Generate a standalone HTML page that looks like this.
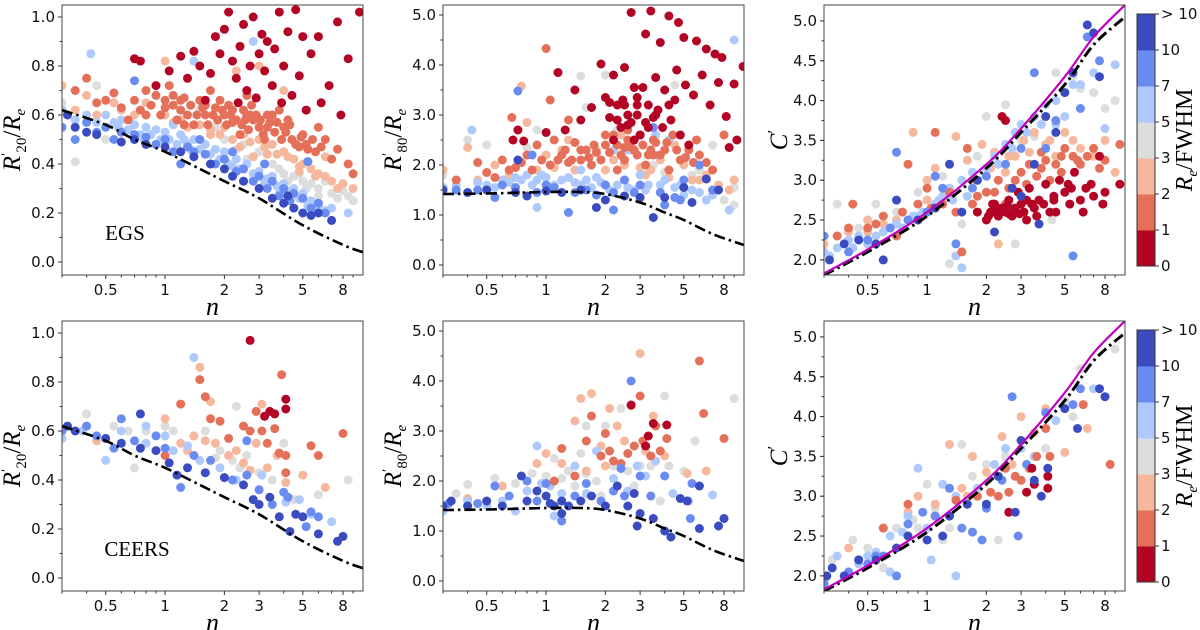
<!DOCTYPE html>
<html><head><meta charset="utf-8"><style>
html,body{margin:0;padding:0;background:#fff;}
svg{display:block;}
</style></head><body>
<svg id="fig" width="1200" height="630" viewBox="0 0 1200 630" xmlns="http://www.w3.org/2000/svg" font-family="DejaVu Sans, Liberation Sans, sans-serif"></svg>
<script>
// ---- data ----
const colors = ["#b40426","#e4705a","#f6b89d","#dcdddd","#aec9fc","#6a8bef","#3a4cc0"];
const cbLabels = ["0","1","2","3","5","7","10","> 10"];
const xTicks = [0.5,1,2,3,5,8];
const xTickLabels = ["0.5","1","2","3","5","8"];
const xMinor = [0.3,0.4,0.6,0.7,0.8,0.9,4,6,7,9];
const yTicksL = [0,0.2,0.4,0.6,0.8,1.0];
const yTickLabelsL = ["0.0","0.2","0.4","0.6","0.8","1.0"];
const yTicksM = [0,1,2,3,4,5];
const yTickLabelsM = ["0.0","1.0","2.0","3.0","4.0","5.0"];
const yTicksR = [2,2.5,3,3.5,4,4.5,5];
const yTickLabelsR = ["2.0","2.5","3.0","3.5","4.0","4.5","5.0"];

const curveLn = [0.3,0.5,0.7,1,1.5,2,3,5,8,10.1];
const curveLy = [0.62,0.56,0.50,0.45,0.38,0.33,0.26,0.15,0.07,0.04];
const curveMn = [0.3,0.5,1,1.5,2,3,4,5,7,10.1];
const curveMy = [1.42,1.43,1.46,1.46,1.42,1.25,1.05,0.9,0.62,0.4];
const curveRn = [0.3,0.5,1,2,3,5,7,10.1];
const curveRy = [1.81,2.1,2.55,3.15,3.6,4.2,4.7,5.05];
const curveRmy = [1.83,2.13,2.6,3.2,3.65,4.3,4.8,5.2];

const ptsTL = [
[0.7,0.83,0.75,0.82,0.9,0.72,1.05,0.78,1.2,0.84,1.3,0.75,1.4,0.86,1.5,0.8,1.7,0.77,1.8,0.92,1.9,0.85,2,0.95,2.1,1.02,2.2,0.82,2.3,0.75,2.4,0.88,2.5,0.97,2.6,0.7,2.7,0.8,2.8,1.0,3,0.85,3.1,0.93,3.2,0.78,3.3,0.9,3.5,0.72,3.6,0.87,3.8,1.02,4,0.8,4.2,0.94,4.4,0.68,4.6,1.03,4.8,0.76,5,0.92,5.2,0.62,5.5,0.85,6,0.92,6.2,0.65,6.8,0.72,7.5,0.98,7.8,0.6,8.5,0.83,9.7,1.02,2.9,0.67,3.9,0.65,2.35,0.65,1.6,0.66],
[0.35,0.7,0.4,0.75,0.45,0.65,0.55,0.69,0.6,0.63,0.7,0.66,0.8,0.7,0.9,0.68,1,0.66,1.1,0.64,1.2,0.62,1.3,0.6,1.5,0.66,1.6,0.6,1.8,0.63,2,0.6,2.2,0.57,2.5,0.62,2.8,0.58,3,0.55,3.3,0.6,3.6,0.53,4,0.55,4.4,0.5,4.8,0.47,5.3,0.46,5.8,0.45,6.5,0.5,7.5,0.46,8.5,0.4,1.4,0.56,2.4,0.52,3.2,0.5,1.7,0.7,2.6,0.68,3.8,0.62,0.65,0.58,6,0.55,9,0.36,1.05,0.72,1.25,0.67,1.9,0.66,2.1,0.64,2.7,0.6,3.4,0.57,4.2,0.58,5,0.52,1.15,0.58],
[0.3,0.72,0.35,0.62,0.4,0.68,0.55,0.65,0.8,0.65,1,0.6,1.2,0.58,1.5,0.56,2,0.55,2.5,0.52,3,0.5,3.5,0.48,4,0.45,4.5,0.42,5,0.4,5.5,0.38,6,0.36,7,0.33,8,0.32,9,0.3,1,0.82,2.3,0.78,3,0.8,4,0.7,2.8,0.43,6.5,0.43,1.7,0.52,3.3,0.44,4.8,0.37],
[0.3,0.65,0.35,0.58,0.45,0.72,0.5,0.5,0.35,0.41,1.5,0.62,2,0.5,2.5,0.48,3,0.45,3.5,0.4,4,0.36,4.5,0.35,5,0.33,5.5,0.32,6,0.3,7,0.28,8,0.29,9,0.25,2.8,0.58,1.8,0.55,6.5,0.33,8.5,0.27,3.8,0.38,2.3,0.46],
[0.3,0.62,0.4,0.6,0.5,0.6,0.6,0.58,0.7,0.56,0.8,0.55,0.9,0.54,1,0.53,1.2,0.52,1.4,0.5,1.6,0.48,1.8,0.46,2,0.45,2.3,0.42,2.6,0.4,3,0.37,3.5,0.35,4,0.32,4.5,0.3,5,0.28,5.5,0.25,6,0.23,7,0.22,8.5,0.2,0.42,0.85,1.4,0.82,2.8,0.9,0.75,0.52,1.1,0.56,2.5,0.33,3.8,0.28,0.55,0.57,0.95,0.5,1.3,0.48,1.7,0.44,2.2,0.39,3.2,0.32],
[0.3,0.55,0.4,0.57,0.5,0.55,0.6,0.53,0.8,0.51,1,0.5,1.3,0.47,1.6,0.44,2,0.42,2.5,0.38,3,0.35,3.5,0.33,4,0.3,5,0.26,6,0.24,0.7,0.74,1.5,0.5,2.2,0.45,1.2,0.4,3.2,0.4,5.3,0.41,4.5,0.28],
[0.32,0.6,0.35,0.55,0.4,0.53,0.45,0.52,0.6,0.49,0.7,0.5,0.8,0.48,1.0,0.47,1.2,0.45,1.4,0.43,1.7,0.4,2,0.38,2.5,0.33,3,0.3,3.5,0.26,4,0.24,4.5,0.22,5,0.2,5.5,0.19,6,0.2,7,0.17,4.2,0.27,2.2,0.35]
];
const extraTL = [
[],
[0.5,0.66,0.75,0.62,0.85,0.64,0.95,0.6,1.1,0.68,1.25,0.56,1.35,0.64,1.45,0.6,1.55,0.63,1.65,0.56,1.75,0.6,1.85,0.58,1.95,0.62,2.05,0.56,2.15,0.6,2.3,0.58,2.45,0.56,2.55,0.58,2.65,0.54,2.75,0.64,2.9,0.6,3.05,0.58,3.15,0.52,3.3,0.55,3.5,0.6,3.7,0.57,3.9,0.5,4.1,0.53,4.3,0.56,4.6,0.48,4.9,0.51,5.2,0.48,5.6,0.5,6.2,0.47,7,0.42,0.8,0.6,1,0.63,1.2,0.66,1.6,0.64,2.2,0.62,2.6,0.6],
[0.45,0.6,0.6,0.62,0.7,0.6,1.1,0.57,1.3,0.55,1.7,0.54,2.2,0.5,2.7,0.49,3.2,0.47,3.7,0.44,4.2,0.43,4.8,0.39,5.8,0.35,6.5,0.35,7.5,0.3,1.9,0.52,2.4,0.47],
[3.2,0.4,4.2,0.33,5.2,0.3,6,0.27,7.5,0.26,4.8,0.36,2.6,0.42],
[0.35,0.58,0.45,0.57,0.65,0.54,0.85,0.52,1.05,0.5,1.15,0.48,1.25,0.5,1.35,0.46,1.5,0.46,1.9,0.42,2.1,0.4,2.4,0.38,2.8,0.36,3.3,0.34,3.7,0.31,4.2,0.29,4.8,0.26,5.3,0.23,6.5,0.21,0.58,0.55,0.78,0.5],
[0.35,0.5,0.45,0.53,0.55,0.5,0.7,0.52,0.9,0.48,1.1,0.45,1.4,0.45,1.8,0.4,2.3,0.37,2.8,0.33,3.3,0.3,3.8,0.27,4.3,0.25,5.5,0.22,6.5,0.2],
[]
];
const ptsBL = [
[2.7,0.97,3.2,0.66,3.4,0.68,3.6,0.67,4.1,0.73,4.1,0.69],
[1.2,0.71,1.5,0.81,1.6,0.74,1.7,0.65,1.9,0.64,2.1,0.57,2.5,0.62,2.7,0.6,2.9,0.68,3.1,0.6,3.3,0.55,3.6,0.61,3.8,0.51,3.9,0.83,4.1,0.5,4.1,0.43,5.5,0.54,6,0.5,8,0.59,1,0.5],
[0.45,0.56,1,0.65,1.3,0.52,1.5,0.86,1.7,0.72,1.4,0.58,1.8,0.55,2.1,0.5,2.5,0.47,2.9,0.55,3.1,0.71,3.3,0.45,3.7,0.5,4.1,0.39,5,0.42,6.5,0.37,2.7,0.44,1.6,0.56,2.3,0.52,1.2,0.55],
[0.4,0.67,0.55,0.62,0.7,0.45,0.65,0.6,1.2,0.71,1.1,0.6,1.6,0.6,1.9,0.52,2.3,0.7,2.2,0.48,2.6,0.5,3,0.43,3.5,0.4,4,0.55,4.5,0.32,6,0.34,8.5,0.4,1.4,0.58,0.8,0.6,1.0,0.62,1.8,0.49,2.4,0.45],
[0.3,0.57,0.38,0.6,0.5,0.48,0.6,0.6,0.8,0.55,1,0.58,1.1,0.52,1.3,0.54,1.5,0.48,1.9,0.45,2.3,0.4,3.1,0.42,4.1,0.31,4.8,0.32,5.5,0.26,7,0.23,1.4,0.9,0.8,0.62],
[0.3,0.6,0.4,0.62,0.45,0.58,0.55,0.53,0.7,0.56,0.9,0.58,1,0.53,1.2,0.37,1.4,0.5,1.7,0.48,2.2,0.4,2.6,0.42,3,0.36,3.5,0.3,4,0.35,4.2,0.33,5.2,0.21,5.5,0.27,6,0.25,0.6,0.65,2.6,0.56],
[0.32,0.62,0.35,0.6,0.5,0.57,0.6,0.55,0.75,0.53,0.9,0.52,1.05,0.47,1.15,0.42,1.3,0.45,1.6,0.43,2,0.41,2.5,0.38,2.8,0.32,3,0.3,3.4,0.33,3.8,0.25,4.3,0.19,4.6,0.26,5,0.25,6,0.18,7.5,0.15,8,0.17,0.75,0.67]
];
const ptsTM = [
[0.68,2.5,0.72,2.7,0.77,2.48,1,2.65,1.15,3.85,1.25,2.7,1.4,3.5,1.5,2.9,1.7,3.15,1.9,4.02,2.0,3.35,2.1,2.95,2.2,3.8,2.3,3.2,2.4,2.75,2.5,3.95,2.6,2.8,2.7,5.05,2.8,3.55,2.9,3.0,3.0,2.6,3.1,3.55,3.2,4.62,3.3,3.2,3.4,5.08,3.5,2.95,3.6,3.75,3.8,4.45,4.0,3.5,4.2,4.98,4.3,2.9,4.5,3.3,4.7,4.85,4.8,2.6,5,4.55,5.1,3.6,5.3,2.4,5.6,3.4,5.8,4.48,6.2,3.8,6.5,4.32,6.8,3.2,7.2,4.22,7.5,3.65,7.8,4.15,8.2,2.97,8.5,2.35,9,3.62,9.3,2.5,10,3.97,2.6,3.0,3.3,2.75,2.2,2.5,4.6,3.9,2.45,3.3,2.9,3.35,3.7,3.1],
[0.35,1.7,0.45,2.05,0.5,1.85,0.6,2.1,0.7,1.95,0.8,2.2,0.9,2.4,1,4.33,1.05,3.3,1.1,2.5,1.2,2.2,1.3,2.05,1.4,2.45,1.6,2.3,1.8,2.25,2.0,2.4,2.2,2.6,2.4,2.2,2.6,2.5,2.8,2.3,3,2.6,3.3,2.2,3.6,2.45,4,2.3,4.4,2.6,4.8,2.1,5.3,2.3,6,2.2,7,1.9,8,2.6,1.3,2.9,0.67,2.95,1.7,2.0,2.3,1.9,3.2,2.0,4.2,1.9,5.8,2.5,2.5,2.35,3.5,2.5,1.5,2.1],
[0.3,1.9,0.4,2.35,0.55,2.0,0.75,3.58,1,2.2,1.2,2.3,1.3,2.5,1.5,2.1,1.8,2.3,2.2,2.1,2.4,2.6,2.7,2.3,3,1.95,3.4,1.9,3.8,2.1,4.5,2.4,5,2.0,5.5,1.7,6.5,1.8,7.5,1.6,9,1.7,1.15,3.85,0.8,2.85,2.9,3.0],
[0.3,1.8,0.4,2.5,0.5,2.4,0.9,2.7,1.5,3.78,1.6,3.15,2,3.8,2.3,2.7,3,1.8,4,1.85,4.5,3.6,5,2.1,6,1.9,7,2.4,8,1.3,9,1.55,0.8,2.35,3.5,2.0,5.5,1.8,9,1.2],
[0.3,1.55,0.42,2.7,0.5,1.6,0.6,1.7,0.7,1.75,0.8,1.8,0.9,1.7,1,1.75,1.2,1.7,1.4,1.65,1.6,1.7,1.8,1.75,2,1.6,2.2,2.3,2.5,1.7,2.8,1.5,3,1.8,3.3,1.6,3.6,2.6,4,1.7,4.5,1.55,5,1.4,5.5,1.5,6.5,1.3,7.5,1.5,8.5,1.1,9,4.5,0.9,1.15,2.6,2.3,3.7,2.2,1.5,1.9,4.2,2.5],
[0.35,1.5,0.55,1.35,0.6,1.6,0.85,2.2,1,1.6,1.3,1.05,1.6,1.5,2,1.6,2.5,1.7,3,1.6,3.5,2.75,4,1.2,5,1.7,6,2,7,1.5,0.72,3.48,4.5,1.35,2.2,1.1],
[0.3,1.5,0.4,1.45,0.5,1.5,0.7,1.45,0.8,1.38,1,1.48,1.2,1.45,1.5,1.5,2,1.3,2.5,1.38,3,1.35,3.5,0.95,4,1.35,5,1.55,5.5,1.25,6.5,1.72,7.5,1.5,1.8,1.15,0.72,2.1]
];
const extraTM = [
[2.3,2.9,2.5,3.2,2.7,2.85,2.9,3.2,3.2,2.85,3.6,3.0,3.9,2.75,4.2,3.2,2.1,3.25,2.8,2.5],
[0.55,1.75,0.65,1.9,0.75,2.05,0.85,1.9,0.95,2.1,1.05,2.0,1.15,2.1,1.25,2.3,1.35,2.1,1.5,2.3,1.65,2.15,1.75,2.4,1.9,2.1,2.1,2.25,2.3,2.4,2.5,2.1,2.7,2.35,2.9,2.2,3.1,2.4,3.4,2.3,3.8,2.2,4.1,2.45,4.6,2.3,5.1,2.15,5.6,2.05,6.5,2.05,2.0,2.6,2.6,2.7,3.5,2.2],
[0.45,1.7,0.65,1.8,0.9,1.9,1.1,1.95,1.4,1.9,1.7,2.0,2.0,1.9,2.5,2.0,3.2,1.8,4.2,1.75,6,1.7,8.5,1.5],
[],
[0.35,1.6,0.45,1.65,0.55,1.55,0.65,1.65,0.75,1.7,0.85,1.6,0.95,1.8,1.1,1.6,1.3,1.75,1.5,1.6,1.7,1.55,1.9,1.65,2.1,1.5,2.3,1.6,2.6,1.55,3.2,1.5,3.8,1.6,4.8,1.6,6,1.45,7,1.4],
[0.45,1.5,0.7,1.55,0.9,1.45,1.1,1.55,1.4,1.45,1.8,1.4,2.2,1.45,2.8,1.45,3.8,1.45,4.8,1.3],
[]
];
const ptsBM = [
[2.7,3.52,3.2,2.7,3.3,2.9,3.5,3.15,4.1,3.12],
[1.1,2.0,1.2,2.65,1.4,2.1,1.6,2.8,1.7,3.3,1.9,2.5,2.0,2.95,2.1,2.6,2.4,2.35,2.6,2.55,2.8,2.7,3,3.7,3.1,2.8,3.4,2.5,3.6,3.1,3.8,2.6,4.1,2.85,6,4.4,6.3,3.35,8,2.85,2.2,2.4],
[0.4,1.65,0.6,1.9,0.9,2.35,1,2.55,1.2,2.35,1.4,3.2,1.5,3.65,1.7,3.75,1.9,2.7,2.1,3.45,2.3,3.1,2.5,2.8,2.7,3.5,3,4.55,3.2,2.6,3.5,3.3,4,2.5,5.2,2.15,6.5,2.2,1.6,2.2,2.0,2.3],
[0.35,1.75,0.4,1.93,0.55,2.05,0.7,1.95,0.85,2.15,1.0,2.1,1.1,2.45,1.3,2.2,1.5,2.55,1.6,3.1,1.8,2.0,2,3.1,2.2,2.3,2.4,3.45,2.6,2.2,2.8,1.9,3,2.3,3.4,2.3,3.8,1.6,4,3.7,4.2,2.3,5,2.2,5.7,2.8,9,3.65,1.4,1.9,1.9,1.7,1.2,2.05,1.6,2.15],
[0.3,1.4,0.4,1.6,0.5,1.5,0.6,1.6,0.7,1.4,0.8,1.8,0.9,2.7,0.95,1.95,1.05,1.9,1.2,1.75,1.4,2.3,1.6,1.75,1.8,2.6,2.2,2.05,2.6,1.8,3.2,2.1,3.6,2.4,4.4,1.75,5.3,1.6,7,1.72,1.1,1.3,2.9,2.3],
[0.32,1.55,0.45,1.55,0.55,1.9,0.65,1.7,0.8,2.0,0.9,1.6,1,1.95,1.2,1.2,1.4,1.7,1.6,1.95,1.9,1.6,2.2,1.8,2.5,1.7,2.7,4.0,3,2.1,3.4,1.7,4,2.1,5.5,1.95,5.4,1.25,2.4,2.25],
[0.3,1.5,0.33,1.6,0.4,1.5,0.5,1.6,0.6,1.5,0.75,2.1,0.8,1.6,0.9,1.8,1,1.7,1.05,1.55,1.1,1.5,1.2,1.35,1.3,1.5,1.5,1.6,1.7,1.7,2,1.5,2.3,1.9,2.6,1.5,2.9,1.1,3,1.35,3.5,1.25,4,1.0,4.3,0.88,4.8,1.65,5.2,1.6,6,1.05,6,1.9,7.5,1.1,8,1.25,1.2,1.6,2.8,1.75]
];
const ptsTR = [
[1.8,2.6,2,2.5,2.1,2.6,2.2,2.7,2.3,2.55,2.4,2.65,2.5,2.6,2.6,2.75,2.7,2.55,2.8,2.65,3.0,2.7,3.1,2.6,3.3,2.9,3.5,2.65,3.7,2.75,4.0,2.95,4.2,2.6,4.4,2.8,4.7,3.0,5,2.85,5.3,2.7,5.6,3.1,6,2.75,6.4,2.9,7,2.8,7.5,3.3,8,2.85,9.5,2.95,2.4,3.8,2.5,3.75,5.4,2.9,4.4,2.75,3.2,2.5,2.9,2.85,6.8,2.95,7.8,2.7,2.2,2.6,2.6,2.58,3.4,2.7],
[0.35,2.3,0.42,2.7,0.5,2.4,0.6,2.55,0.7,2.3,0.8,3.2,0.9,2.7,1.0,2.9,1.1,3.6,1.3,2.85,1.5,2.1,1.7,2.7,2,2.85,2.3,3.0,2.6,2.9,3,3.1,3.3,3.2,3.6,3.05,4,3.25,4.5,3.2,5,3.4,5.5,3.3,6,3.2,7,3.4,8,3.25,9.5,3.45,1.6,3.4,2.5,2.7,3.8,3.35,4.8,3.1],
[0.3,2.2,0.4,2.35,0.5,2.5,0.6,2.45,0.75,2.6,0.85,3.6,1.0,3.0,1.2,2.8,1.4,3.55,1.6,3.25,1.9,3.45,2.2,3.35,2.5,3.1,2.8,3.3,3.1,3.5,3.5,3.6,4,3.45,4.5,3.3,5,3.6,6,3.4,7,3.3,8,3.5,9,3.1,2.3,2.2,1.1,3.15],
[0.3,2.2,0.35,2.7,0.45,2.4,0.55,2.7,0.7,2.6,0.9,2.85,1.2,3.05,1.5,2.45,1.8,3.3,2,3.8,2.5,3.95,3,3.5,3.5,3.55,4,3.8,4.5,4.35,5,3.6,5.5,4.3,6,4.15,7,4.1,8,3.9,9,4.0,1.3,1.95,2.8,2.2,4.3,2.5],
[0.3,2.1,0.35,2.15,0.4,2.25,0.45,2.3,0.5,2.2,0.6,2.35,0.7,2.45,0.8,2.5,0.9,2.55,1,2.6,1.1,2.7,1.2,2.8,1.3,2.9,1.5,3.0,1.7,3.1,2,3.15,2.2,3.3,2.5,3.45,2.8,3.6,3,3.7,3.5,3.8,4,3.95,4.5,4.0,5,3.8,5.5,4.2,6,4.2,7,4.35,8,3.65,9,4.45,1.4,2.05,1.6,2.8,2.6,2.7,1.5,1.9],
[0.3,2.3,0.4,2.1,0.5,2.25,0.65,2.4,0.8,2.5,1.0,2.6,1.2,2.9,1.4,2.2,1.7,2.9,2,3.05,2.5,3.2,3,3.4,3.5,4.35,4,3.4,4.5,3.75,5.5,2.05,6,3.9,6.5,4.8,7.5,4.5,0.7,3.35,2.3,2.65,1.1,3.05],
[0.32,2.0,0.38,2.2,0.45,2.25,0.55,2.2,0.7,2.75,0.9,2.5,1.1,2.65,1.3,3.2,1.5,2.6,2.2,2.35,3,2.8,3.5,3.2,3.7,2.45,4,3.8,4.5,3.6,5,4.1,5.5,4.35,6.5,4.95,7,4.85,7.5,4.3,2.7,2.9,1.8,3.0,0.6,2.0]
];
const extraTR = [
[2.15,2.7,2.35,2.62,2.55,2.68,2.75,2.6,2.95,2.58,3.2,2.75,3.6,2.55,3.9,2.7,4.5,2.6,5.2,2.95,6.2,2.6,2.05,2.55],
[0.4,2.4,0.55,2.45,0.75,2.6,0.9,2.5,1.05,2.65,1.2,2.7,1.4,2.6,1.8,2.8,2.2,2.85,2.8,3.0,3.2,2.95,3.8,3.15,4.2,3.0,4.8,3.3,5.8,3.25,6.5,3.3,7.5,3.15],
[0.35,2.3,0.5,2.35,0.7,2.5,1.0,2.75,1.3,2.85,1.7,3.0,2.1,3.15,2.6,3.3,3.3,3.35,4.2,3.5,5.5,3.5],
[],
[0.32,2.05,0.42,2.15,0.55,2.3,0.65,2.4,0.75,2.4,0.85,2.55,0.95,2.6,1.15,2.75,1.35,2.75,1.8,3.0,2.3,3.2,2.7,3.4,3.2,3.6,3.8,3.7,4.5,3.7],
[],
[]
];
const ptsBR = [
[2.6,2.8,3.2,3.05,3.4,3.35,3.5,3.15,4.1,3.25,4.1,3.1],
[0.6,2.6,0.8,2.9,1.1,2.75,1.4,2.95,1.8,3.0,2.1,3.05,2.5,3.35,2.8,3.25,3,3.2,3.3,3.35,3.6,3.5,4,3.85,4.2,3.5,6.2,4.15,8.5,3.4,2.3,3.0,2.6,3.05],
[0.4,2.35,0.6,2.6,0.8,2.8,0.9,3.0,1.1,2.9,1.3,3.65,1.5,3.1,1.7,3.5,2,3.3,2.4,3.75,2.7,3.4,3,4.0,3.5,3.8,4,4.1,5,3.55,6.5,3.85,1.6,3.0],
[0.33,2.2,0.42,2.45,0.5,2.35,0.6,2.1,0.7,2.6,0.85,2.7,1,3.15,1.2,3.15,1.3,2.6,1.5,3.65,1.7,3.25,2,3.4,2.5,3.5,3,3.7,3.5,3.5,4,3.6,5,4.2,5.5,4.0,6,4.6,9,4.85,2.3,2.45,1.2,2.45,0.9,2.6,1.1,2.85],
[0.3,1.95,0.35,2.25,0.45,2.15,0.55,2.3,0.65,2.5,0.8,2.75,0.9,3.35,1,2.6,1.2,3.15,1.4,3.0,1.8,3.1,2.2,3.4,2.5,3.6,3,3.6,3.5,3.5,4.5,3.95,7,4.35,1.05,2.2,1.4,2.0,0.65,2.05,0.5,2.25,0.75,2.55],
[0.3,1.9,0.4,2.05,0.5,2.15,0.6,2.25,0.7,2.0,0.8,2.65,0.95,2.8,1.1,2.75,1.3,3.1,1.5,2.6,1.7,2.55,2,2.85,2.4,3.2,2.7,4.25,3.2,3.4,4,4.05,5.5,4.15,6,4.35,1.9,2.45,2.9,2.5,0.45,2.2,0.55,2.25],
[0.31,2.0,0.33,2.1,0.38,2.0,0.45,2.2,0.55,2.2,0.7,2.35,0.8,2.5,1,2.45,1.2,2.5,1.3,2.75,1.6,2.9,2,2.9,2.3,3.25,2.8,2.8,3,3.7,3.5,3.2,3.8,3.0,4.1,3.35,5,4.1,5.8,3.85,7.5,4.35,8,4.25]
];
const noExtra = [[],[],[],[],[],[],[]];

// ---- helpers ----
const NS = "http://www.w3.org/2000/svg";
const svg = document.getElementById('fig');
function mk(tag, attrs, parent){ const e=document.createElementNS(NS,tag); for(const k in attrs) e.setAttribute(k,attrs[k]); (parent||svg).appendChild(e); return e; }
const PW=301, PH=270, XMIN=0.3, XMAX=10.1;
const colX=[62,443,824], rowY=[5,321];
const yRanges=[[-0.053,1.049],[-0.2,5.2],[1.81,5.2]];
function xS(c,n){ return colX[c]+(Math.log10(n)-Math.log10(XMIN))/(Math.log10(XMAX)-Math.log10(XMIN))*PW; }
function yS(c,r,v){ const [a,b]=yRanges[c]; return rowY[r]+PH-(v-a)/(b-a)*PH; }
function smoothPath(P){
  let d='M'+P[0][0].toFixed(1)+','+P[0][1].toFixed(1);
  for(let i=0;i<P.length-1;i++){
    const p0=P[i-1]||P[i], p1=P[i], p2=P[i+1], p3=P[i+2]||P[i+1];
    const c1=[p1[0]+(p2[0]-p0[0])/6, p1[1]+(p2[1]-p0[1])/6];
    const c2=[p2[0]-(p3[0]-p1[0])/6, p2[1]-(p3[1]-p1[1])/6];
    d+='C'+c1[0].toFixed(1)+','+c1[1].toFixed(1)+' '+c2[0].toFixed(1)+','+c2[1].toFixed(1)+' '+p2[0].toFixed(1)+','+p2[1].toFixed(1);
  }
  return d;
}

function panel(c,r,pts,extra,yT,yTL,yMinorStep,name){
  const g=mk('g',{});
  
  
  const clipId='clip'+c+r;
  const cp=mk('clipPath',{id:clipId},g); mk('rect',{x:colX[c],y:rowY[r],width:PW,height:PH},cp);
  const pg=mk('g',{'clip-path':'url(#'+clipId+')'},g);
  const order=[3,2,4,1,5,0,6];
  order.forEach(ci=>{
    const arr=pts[ci].concat(extra[ci]);
    for(let i=0;i<arr.length;i+=2){
      const d=mk('circle',{cx:xS(c,arr[i]).toFixed(1),cy:yS(c,r,arr[i+1]).toFixed(1),r:4.5,fill:colors[ci]},pg);
      
      
    }
  });
  function curve(ns,ys,stroke,dash,w,nm){
    const P=ns.map((n,i)=>[xS(c,n),yS(c,r,ys[i])]);
    const e=mk('path',{d:smoothPath(P),fill:'none',stroke:stroke,'stroke-width':w,'stroke-dasharray':dash,'stroke-linejoin':'round'},pg);
    
    
  }
  if(c===0) curve(curveLn,curveLy,'#000','11,4,2.5,4',2.6,'model-curve');
  if(c===1) curve(curveMn,curveMy,'#000','11,4,2.5,4',2.6,'model-curve');
  if(c===2){ curve(curveRn,curveRy,'#000','11,4,2.5,4',3,'model-curve'); curve(curveRn,curveRmy,'#c000c0','none',2.2,'fit-curve'); }
  const fr=mk('rect',{x:colX[c],y:rowY[r],width:PW,height:PH,fill:'none',stroke:'#444','stroke-width':1},g);
  
  
  const by=rowY[r]+PH;
  xTicks.forEach((t,i)=>{ const x=xS(c,t); mk('line',{x1:x,y1:by,x2:x,y2:by+4,stroke:'#333'},g);
    const tx=mk('text',{x:x,y:by+20,'font-size':15,'text-anchor':'middle',fill:'#111'},g); tx.textContent=xTickLabels[i];
      });
  xMinor.forEach(t=>{ const x=xS(c,t); mk('line',{x1:x,y1:by,x2:x,y2:by+2.5,stroke:'#333'},g); });
  yT.forEach((t,i)=>{ const y=yS(c,r,t); mk('line',{x1:colX[c]-4,y1:y,x2:colX[c],y2:y,stroke:'#333'},g);
    const tx=mk('text',{x:colX[c]-7,y:y+5,'font-size':15,'text-anchor':'end',fill:'#111'},g); tx.textContent=yTL[i];
      });
  const [a,b]=yRanges[c];
  for(let v=Math.ceil(a/yMinorStep)*yMinorStep; v<=b; v+=yMinorStep){ const y=yS(c,r,v); mk('line',{x1:colX[c]-2.5,y1:y,x2:colX[c],y2:y,stroke:'#333'},g); }
  const xl=mk('text',{x:colX[c]+PW/2,y:by+40,'font-size':26,'font-style':'italic','font-family':'Liberation Serif, serif','text-anchor':'middle'},g);
  xl.textContent='n';  
  const cy=rowY[r]+PH/2, lx=colX[c]-(c===2?37:42);
  const yl=mk('text',{x:lx,y:cy,'font-size':25,'font-family':'Liberation Serif, serif','text-anchor':'middle',transform:'rotate(-90 '+lx+' '+cy+')'},g);
   
  if(c===0) yl.innerHTML='<tspan font-style="italic">R</tspan><tspan font-size="15" dy="-9">′</tspan><tspan font-size="15" dy="15">20</tspan><tspan dy="-6">/</tspan><tspan font-style="italic">R</tspan><tspan font-size="15" font-style="italic" dy="5">e</tspan>';
  if(c===1) yl.innerHTML='<tspan font-style="italic">R</tspan><tspan font-size="15" dy="-9">′</tspan><tspan font-size="15" dy="15">80</tspan><tspan dy="-6">/</tspan><tspan font-style="italic">R</tspan><tspan font-size="15" font-style="italic" dy="5">e</tspan>';
  if(c===2) yl.innerHTML='<tspan font-style="italic">C</tspan><tspan font-size="17" dy="-8">′</tspan>';
}
panel(0,0,ptsTL,extraTL,yTicksL,yTickLabelsL,0.1,'panel-egs-r20');
panel(1,0,ptsTM,extraTM,yTicksM,yTickLabelsM,0.5,'panel-egs-r80');
panel(2,0,ptsTR,extraTR,yTicksR,yTickLabelsR,0.25,'panel-egs-concentration');
panel(0,1,ptsBL,noExtra,yTicksL,yTickLabelsL,0.1,'panel-ceers-r20');
panel(1,1,ptsBM,noExtra,yTicksM,yTickLabelsM,0.5,'panel-ceers-r80');
panel(2,1,ptsBR,noExtra,yTicksR,yTickLabelsR,0.25,'panel-ceers-concentration');

[['EGS',125,240],['CEERS',137,556]].forEach(([t,x,y])=>{ const e=mk('text',{x:x,y:y,'font-size':21,'font-family':'Liberation Serif, serif','text-anchor':'middle'}); e.textContent=t;
    });

[[14,266],[330,582]].forEach(([t,b],k)=>{
  const g=mk('g',{});  
  const h=(b-t)/7;
  for(let i=0;i<7;i++) mk('rect',{x:1137,y:b-(i+1)*h,width:18,height:h+0.5,fill:colors[i]},g);
  mk('rect',{x:1137,y:t,width:18,height:b-t,fill:'none',stroke:'#333','stroke-width':1},g);
  cbLabels.forEach((l,i)=>{ const y=b-i*h; mk('line',{x1:1155,y1:y,x2:1159,y2:y,stroke:'#333'},g);
    const tx=mk('text',{x:1161,y:y+5,'font-size':15,fill:'#111'},g); tx.textContent=l;
      });
  const cy=(t+b)/2;
  const tt=mk('text',{x:1192,y:cy,'font-size':24,'font-family':'Liberation Serif, serif','text-anchor':'middle',transform:'rotate(-90 1192 '+cy+')'},g);
  tt.innerHTML='<tspan font-style="italic">R</tspan><tspan font-size="15" font-style="italic" dy="5">e</tspan><tspan dy="-5">/FWHM</tspan>';
   
});
</script>
</body></html>
